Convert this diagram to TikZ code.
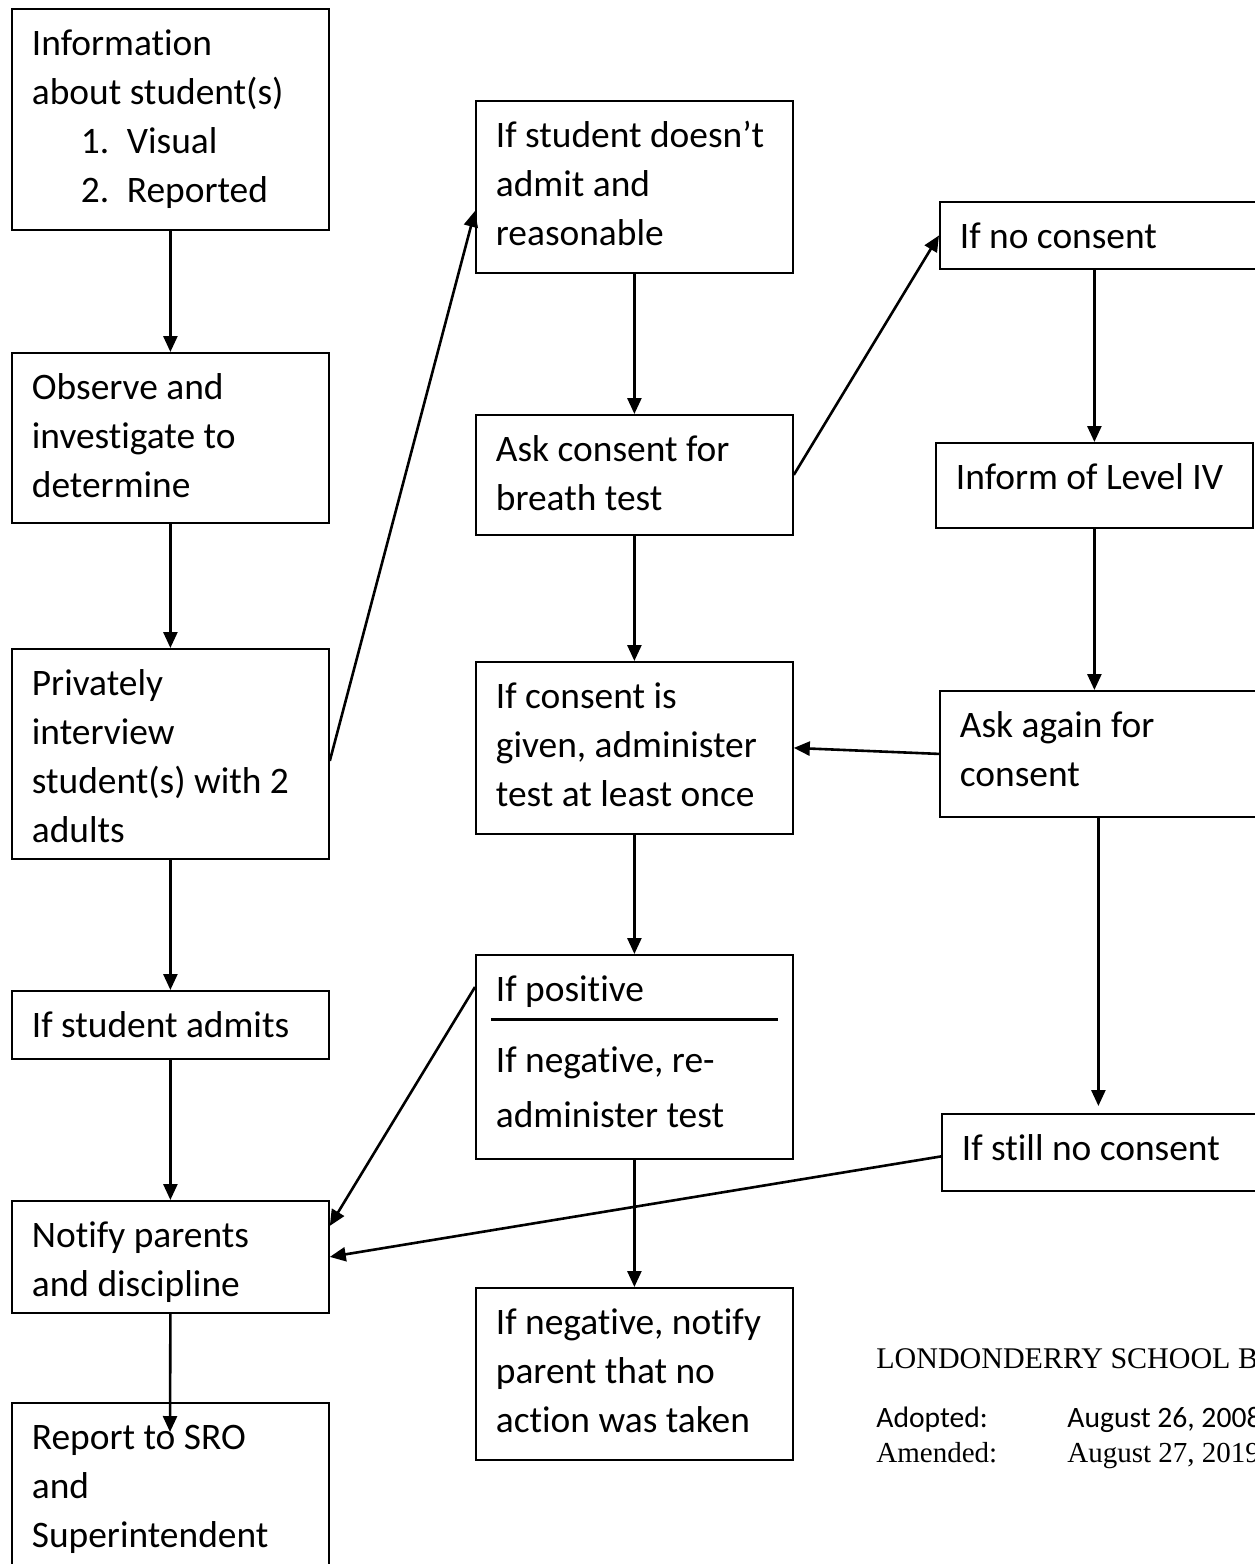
\documentclass[tikz,border=0pt]{standalone}
\usepackage{fontspec}
\setmainfont{Carlito}[Ligatures=NoCommon]
\newfontfamily\timesfont{Liberation Serif}
\usetikzlibrary{arrows.meta}
\newcommand{\boxtext}[2]{\parbox[t][#1][t]{138.5pt}{\rule{0pt}{21.5pt}#2}}
\newcommand{\numitem}[2]{\hspace*{24.5pt}\makebox[23pt][l]{#1}#2}

\begin{document}
\begin{tikzpicture}[x=0.5pt, y=-0.5pt,
    stepbox/.style={draw, line width=0.9pt, anchor=north west, inner xsep=10pt, inner ysep=2pt, font=\fontsize{18.7}{24.4}\selectfont},
    arr/.style={-{Triangle[length=8pt,width=7pt]}, line width=1.3pt},
    note/.style={anchor=base west, inner sep=0pt, font=\fontsize{14.8}{18}\selectfont}]
    \useasboundingbox (0,0) rectangle (1254,1564);
    \node[stepbox] (info) at (11,8) {\boxtext{106.5pt}{Information\\about student(s)\\\numitem{1.}{Visual}\\\numitem{2.}{Reported}}};
    \node[stepbox] (observe) at (11,352) {\boxtext{81pt}{Observe and\\investigate to\\determine}};
    \node[stepbox] (interview) at (11,648) {\boxtext{101pt}{Privately\\interview\\student(s) with 2\\adults}};
    \node[stepbox] (admits) at (11,990) {\boxtext{30pt}{If student admits}};
    \node[stepbox] (notify) at (11,1200) {\boxtext{52pt}{Notify parents\\and discipline}};
    \node[stepbox] (report) at (11,1402) {\boxtext{83.5pt}{Report to SRO\\and\\Superintendent}};
    \node[stepbox] (doesnt) at (475,100) {\boxtext{82pt}{If student doesn’t\\admit and\\reasonable}};
    \node[stepbox] (askconsent) at (475,414) {\boxtext{56pt}{Ask consent for\\breath test}};
    \node[stepbox] (given) at (475,661) {\boxtext{82pt}{If consent is\\given, administer\\test at least once}};
    \node[stepbox] (positive) at (475,954) {\boxtext{98pt}{If positive\\[11pt]If negative, re-\\[3.1pt]administer test}};
    \node[stepbox] (negative) at (475,1287) {\boxtext{82pt}{If negative, notify\\parent that no\\action was taken}};
    \node[stepbox] (noconsent) at (939,201) {\boxtext{29.5pt}{If no consent}};
    \node[stepbox] (levelIV) at (935,442) {\boxtext{38.5pt}{Inform of Level IV}};
    \node[stepbox] (askagain) at (939,690) {\boxtext{59pt}{Ask again for\\consent}};
    \node[stepbox] (stillno) at (941,1113) {\boxtext{34.5pt}{If still no consent}};
    \draw[line width=1.5pt] ([xshift=8pt,yshift=-32.5pt]positive.north west) -- ([xshift=-8pt,yshift=-32.5pt]positive.north east);
    \coordinate (rtip) at (170,1432);
    \draw[arr] (info) -- (observe);
    \draw[arr] (observe) -- (interview);
    \draw[arr] (interview) -- (admits);
    \draw[arr] (admits) -- (notify);
    \draw[arr] (notify.south) -- (rtip);
    \draw[arr] ([yshift=-3.5pt]interview.east) -- ([yshift=-12pt]doesnt.west);
    \draw[arr] (doesnt) -- (askconsent);
    \draw[arr] (askconsent) -- (given);
    \draw[arr] (given) -- (positive);
    \draw[arr] (positive) -- (negative);
    \draw[arr] (askconsent.east) -- (noconsent.west);
    \draw[arr] (noconsent.south -| levelIV.north) -- (levelIV.north);
    \draw[arr] (levelIV.south) -- (levelIV.south |- askagain.north);
    \draw[arr] (askagain.south) -- ([yshift=3.5pt]askagain.south |- stillno.north);
    \draw[arr] (askagain.west) -- (given.east);
    \draw[arr] ([yshift=-16.5pt]positive.north west) -- ([yshift=15.5pt]notify.east);
    \draw[arr] ([yshift=-2pt]stillno.west) -- (notify.east);
    \node[note, font=\timesfont\fontsize{15}{18}\selectfont] (board) at (876,1368) {LONDONDERRY SCHOOL BOARD};
    \node[note] (adopted) at (876,1427) {Adopted:};
    \node[note] (adoptdate) at (1067,1427) {August 26, 2008};
    \node[note, font=\timesfont\fontsize{14.5}{18}\selectfont] (amended) at (876,1462) {Amended:};
    \node[note, font=\timesfont\fontsize{14.5}{18}\selectfont] (amenddate) at (1067,1462) {August 27, 2019};
\end{tikzpicture}
\end{document}
